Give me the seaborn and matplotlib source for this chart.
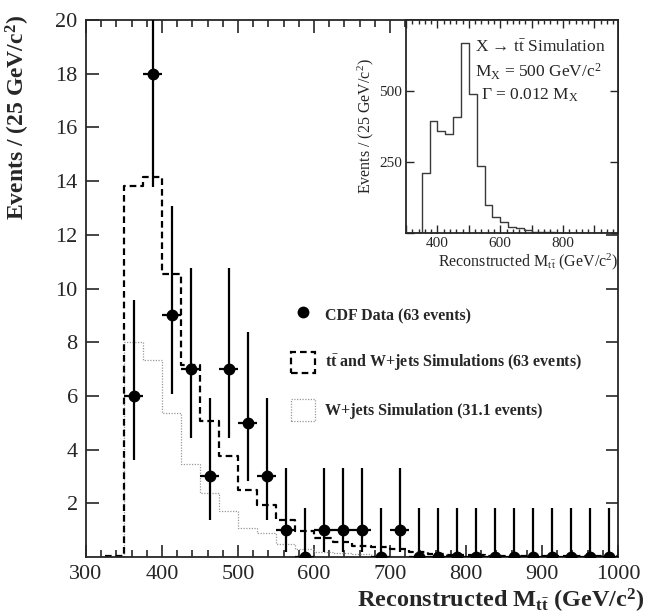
import numpy as np
import pandas as pd
import matplotlib
matplotlib.use("Agg")
import matplotlib.pyplot as plt
import seaborn as sns
from matplotlib.lines import Line2D
from matplotlib.patches import Patch
from matplotlib.ticker import MultipleLocator, FuncFormatter

# =========================
# DATA
# =========================
# main plot: 25 GeV bins, lower edges 325 ... 975
main_lo_edges = [325, 350, 375, 400, 425, 450, 475, 500, 525, 550, 575, 600, 625, 650,
                 675, 700, 725, 750, 775, 800, 825, 850, 875, 900, 925, 950, 975]
tt_wjets = [0.04, 13.8, 14.15, 10.55, 7.15, 5.05, 3.75, 2.5, 1.93, 1.37, 0.95, 0.72, 0.55, 0.42,
            0.36, 0.28, 0.2, 0.1, 0.08, 0.06, 0.05, 0.04, 0.05, 0.03, 0.03, 0.02, 0.02]
wjets = [0.0, 8.0, 7.35, 5.35, 3.45, 2.4, 1.7, 1.08, 0.9, 0.5, 0.3, 0.2, 0.15, 0.1,
         0.05, 0.04, 0.03, 0.02, 0.02, 0.02, 0.01, 0.01, 0.01, 0.01, 0.01, 0.01, 0.01]

# CDF data, bin centres 362.5 ... 987.5
data_centers = [362.5, 387.5, 412.5, 437.5, 462.5, 487.5, 512.5, 537.5, 562.5, 587.5, 612.5,
                637.5, 662.5, 687.5, 712.5, 737.5, 762.5, 787.5, 812.5, 837.5, 862.5, 887.5,
                912.5, 937.5, 962.5, 987.5]
data_counts = [6, 18, 9, 7, 3, 7, 5, 3, 1, 0, 1, 1, 1, 0, 1, 0, 0, 0, 0, 0, 0, 0, 0, 0, 0, 0]
# 68% Poisson interval (low, high) for each observed count
poisson_band = {0: (0.0, 1.84), 1: (0.17, 3.30), 3: (1.37, 5.92), 5: (2.84, 8.38),
                6: (3.62, 9.58), 7: (4.42, 10.77), 9: (6.06, 13.06), 18: (13.79, 23.35)}

# inset: X -> ttbar simulation, lower edges 300 ... 975
inset_lo_edges = [300, 325, 350, 375, 400, 425, 450, 475, 500, 525, 550, 575, 600, 625,
                  650, 675, 700, 725, 750, 775, 800, 825, 850, 875, 900, 925, 950, 975]
inset_counts = [0, 0, 213, 396, 358, 350, 408, 670, 489, 236, 97, 57, 40, 22,
                16, 10, 5, 3, 2, 1, 1, 0, 0, 0, 0, 0, 0, 0]

BIN = 25

# =========================
# STYLE
# =========================
sns.set_theme(style="ticks")
plt.rcParams['font.family'] = ['Liberation Serif', 'DejaVu Serif']
plt.rcParams['mathtext.fontset'] = 'custom'
plt.rcParams['mathtext.rm'] = 'Liberation Serif'
plt.rcParams['mathtext.it'] = 'Liberation Serif:italic'
plt.rcParams['mathtext.bf'] = 'Liberation Serif:bold'
plt.rcParams['axes.linewidth'] = 1.3

fig = plt.figure(figsize=(6.53, 6.16), dpi=100)
ax = fig.add_axes([86 / 653, 1 - 557 / 616, 532 / 653, 537 / 616])

# =========================
# HISTOGRAMS
# =========================
main_edges = main_lo_edges + [main_lo_edges[-1] + BIN]
main_centers = [e + BIN / 2 for e in main_lo_edges]

sns.histplot(x=main_centers, weights=wjets, bins=main_edges, element="step", fill=False,
             color="#999999", linestyle=(0, (1, 1.2)), linewidth=0.9, ax=ax)
sns.histplot(x=main_centers, weights=tt_wjets, bins=main_edges, element="step", fill=False,
             color="black", linestyle=(0, (3, 1.8)), linewidth=1.6, ax=ax)

# data points with asymmetric poisson errors
lo = [c - poisson_band[c][0] for c in data_counts]
hi = [poisson_band[c][1] - c for c in data_counts]
ax.errorbar(data_centers, data_counts, yerr=[lo, hi], xerr=BIN / 2, fmt='o', color='black',
            markersize=7.5, elinewidth=1.6, capsize=0, zorder=5)

ax.set_xlim(300, 1000)
ax.set_ylim(0, 20)
ax.xaxis.set_major_locator(MultipleLocator(100))
ax.xaxis.set_minor_locator(MultipleLocator(20))
ax.set_yticks([2, 4, 6, 8, 10, 12, 14, 16, 18, 20])
ax.tick_params(which='both', direction='in', top=True, right=True, labelsize=16,
               width=1.2, pad=6)
ax.tick_params(which='major', length=9)
ax.tick_params(which='minor', length=5)
sns.despine(ax=ax, top=False, right=False)

ax.set_xlabel(r"Reconstructed M$_{\mathbf{t\bar{t}}}$ (GeV/c$^{\mathbf{2}}$)",
              fontsize=17.5, fontweight='bold', ha='right')
ax.xaxis.set_label_coords(1.05, -0.056)
ax.set_ylabel("Events / (25 GeV/c$^{\\mathbf{2}}$)", fontsize=17, fontweight='bold', ha='right')
ax.yaxis.set_label_coords(-0.102, 1.01)

# legend
handles = [
    Line2D([], [], marker='o', linestyle='none', color='black', markersize=7.5),
    Patch(facecolor='none', edgecolor='black', linestyle=(0, (3, 1.8)), linewidth=1.6),
    Patch(facecolor='none', edgecolor='#999999', linestyle=(0, (1, 1.2)), linewidth=0.9),
]
labels = ["CDF Data (63 events)",
          r"t$\bar{\mathbf{t}}$ and W+jets Simulations (63 events)",
          "W+jets Simulation (31.1 events)"]
ax.legend(handles, labels, loc='upper left', bbox_to_anchor=(285 / 653, 1 - 298 / 616),
          bbox_transform=fig.transFigure, frameon=False, borderaxespad=0,
          prop={'weight': 'bold', 'size': 11.5}, handlelength=1.5, handleheight=1.7,
          labelspacing=1.6, handletextpad=0.6)

# =========================
# INSET
# =========================
ins = fig.add_axes([406 / 653, 1 - 233 / 616, 212 / 653, 213 / 616])
ins.set_facecolor('white')
inset_edges = inset_lo_edges + [inset_lo_edges[-1] + BIN]
inset_centers = [e + BIN / 2 for e in inset_lo_edges]
sns.histplot(x=inset_centers, weights=inset_counts, bins=inset_edges, element="step",
             fill=False, color="#3a3a3a", linewidth=1.0, ax=ins)
ins.set_xlim(300, 975)
ins.set_ylim(0, 750)
ins.xaxis.set_major_locator(MultipleLocator(100))
ins.xaxis.set_minor_locator(MultipleLocator(20))
ins.xaxis.set_major_formatter(FuncFormatter(lambda v, p: f"{v:.0f}" if v in (400, 600, 800) else ""))
ins.set_yticks([0, 250, 500])
ins.set_yticklabels(["", "250", "500"])
ins.tick_params(which='both', direction='in', top=True, right=True, labelsize=11, width=1.0, pad=3)
ins.tick_params(which='major', length=6)
ins.tick_params(which='minor', length=3)
sns.despine(ax=ins, top=False, right=False)
ins.set_xlabel(r"Reconstructed M$_{\mathrm{t\bar{t}}}$ (GeV/c$^2$)", fontsize=11.5, loc='right',
               labelpad=1)
ins.set_ylabel("Events / (25 GeV/c$^2$)", fontsize=11.5, labelpad=2)

ins.text(0.325, 0.873, r"X → t$\bar{\mathrm{t}}$ Simulation", transform=ins.transAxes,
         fontsize=12.5, va='center')
ins.text(0.325, 0.756, r"M$_{\mathrm{X}}$ = 500 GeV/c$^2$", transform=ins.transAxes,
         fontsize=12.5, va='center')
ins.text(0.355, 0.648, r"$\Gamma$ = 0.012 M$_{\mathrm{X}}$", transform=ins.transAxes,
         fontsize=12.5, va='center')

fig.savefig("out.png", dpi=100)
